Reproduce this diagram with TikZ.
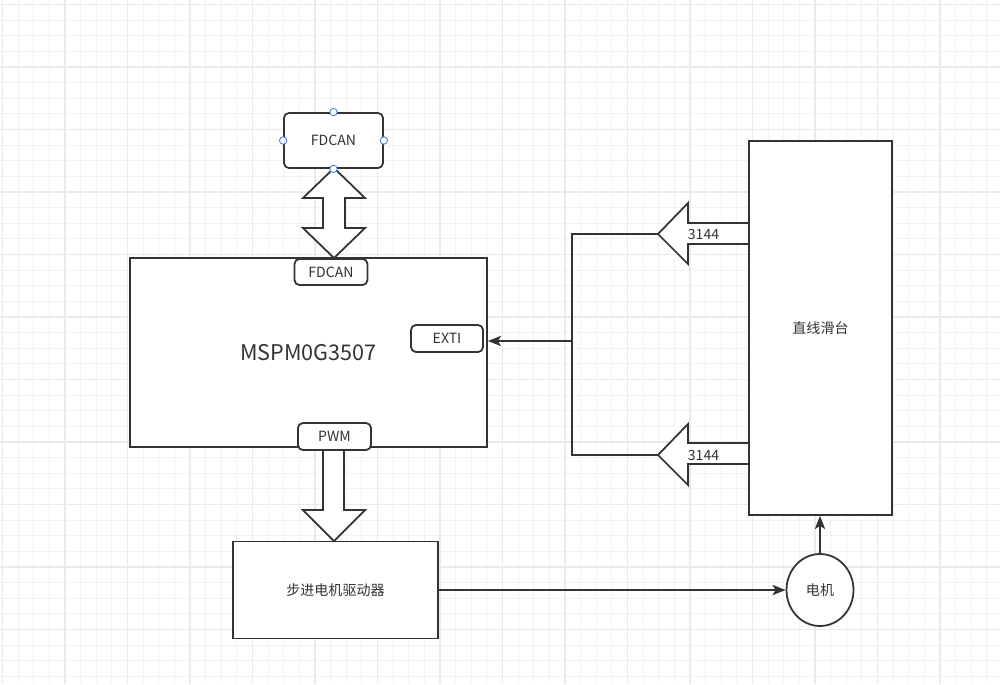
\documentclass[tikz,border=0pt]{standalone}
\usepackage{fontspec}
\setmainfont{Noto Sans CJK SC}
\usetikzlibrary{arrows.meta,shapes.geometric}
\definecolor{ink}{HTML}{333333}
\definecolor{gridminor}{HTML}{F2F2F2}
\definecolor{gridmajor}{HTML}{EAEAEA}
\definecolor{handle}{HTML}{4A7FE0}
\tikzset{
  minorline/.style={draw=gridminor,line width=0.6pt},
  majorline/.style={draw=gridmajor,line width=0.6pt},
  box/.style={draw=ink,line width=1pt,fill=white,text=ink,inner sep=0pt,font=\fontsize{8}{9}\selectfont},
  rbox/.style={box,rounded corners=2.8pt},
  blockarrow/.style={draw=ink,line width=1pt,fill=white,line join=miter},
  conn/.style={draw=ink,line width=1.1pt},
  arr/.style={conn,-{Stealth[length=7.5pt,width=5.8pt,inset=1.8pt]}},
  hdl/.style={circle,draw=handle,fill=white,line width=0.5pt,inner sep=0pt,minimum size=4.2pt},
  lbl/.style={text=ink,inner sep=0pt,font=\fontsize{8}{9}\selectfont}
}
\begin{document}
\begin{tikzpicture}[x=0.02cm,y=-0.02cm]
\useasboundingbox (0,0) rectangle (1000,684);
\fill[white] (0,0) rectangle (1000,684);
% grid
\foreach \i in {0,...,63} { \draw[minorline] ({2.5+\i*15.625},0) -- ({2.5+\i*15.625},684); }
\foreach \i in {0,...,43} { \draw[minorline] (0,{4.5+\i*15.625}) -- (1000,{4.5+\i*15.625}); }
\foreach \i in {0,...,15} { \draw[majorline] ({2.5+\i*62.5},0) -- ({2.5+\i*62.5},684); }
\foreach \i in {0,...,10} { \draw[majorline] (0,{4.5+\i*62.5}) -- (1000,{4.5+\i*62.5}); }

% block arrows
\draw[blockarrow] (334,168) -- (365,198) -- (345,198) -- (345,228) -- (365,228) -- (334,258)
  -- (303,228) -- (323,228) -- (323,198) -- (303,198) -- cycle;
\draw[blockarrow] (323,447) -- (323,510) -- (303,510) -- (334,541) -- (365,510) -- (344,510) -- (344,447);
\draw[blockarrow] (749,223) -- (688,223) -- (688,203) -- (658,234) -- (688,264) -- (688,244) -- (749,244);
\draw[blockarrow] (749,443) -- (688,443) -- (688,424) -- (658,455) -- (688,485) -- (688,464) -- (749,464);
\node[lbl] (t1) at (703.5,234) {3144};
\node[lbl] (t2) at (703.5,455) {3144};
\coordinate (tipA) at (658,234);
\coordinate (tipB) at (658,455);

% boxes
\node[rbox,minimum width=1.98cm,minimum height=1.1cm] (fdtop) at (333.5,140.5) {FDCAN};
\node[box,minimum width=7.14cm,minimum height=3.78cm,font=\fontsize{12.3}{14}\selectfont] (mcu) at (308.5,352.5) {MSPM0G3507};
\node[rbox,minimum width=1.46cm,minimum height=0.52cm] (fdin) at (331,272) {FDCAN};
\node[rbox,minimum width=1.44cm,minimum height=0.54cm] (exti) at (447,338.5) {EXTI};
\node[rbox,minimum width=1.46cm,minimum height=0.54cm] (pwm) at (334.5,436.5) {PWM};
\node[box,minimum width=2.86cm,minimum height=7.48cm] (slide) at (820.5,328) {直线滑台};
\node[box,minimum width=4.1cm,minimum height=1.94cm] (drv) at (335.5,590) {步进电机驱动器};
\node[box,ellipse,minimum width=1.34cm,minimum height=1.44cm] (motor) at (820,590) {电机};

% selection handles on top FDCAN
\node[hdl] (h1) at (fdtop.north) {};
\node[hdl] (h2) at (fdtop.south) {};
\node[hdl] (h3) at (fdtop.west) {};
\node[hdl] (h4) at (fdtop.east) {};

% connectors
\coordinate (jt) at (572,234);
\coordinate (jb) at (572,455);
\coordinate (jm) at (572,341);
\draw[conn] (tipA) -- (jt) -- (jb) -- (tipB);
\draw[arr] (jm) -- (jm -| mcu.east);
\draw[arr] (drv.east) -- (drv.east -| motor.west);
\draw[arr] (motor.north) -- (motor.north |- slide.south);
\end{tikzpicture}
\end{document}
